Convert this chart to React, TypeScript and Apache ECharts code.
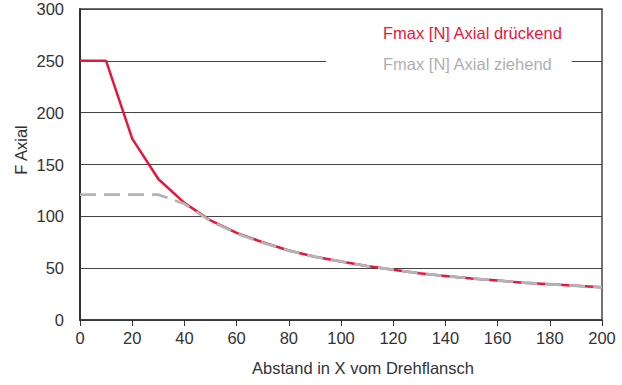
import React, { useEffect, useRef } from "react";
import * as echarts from "echarts";

const xValues = [0, 10, 20, 30, 40, 50, 60, 70, 80, 90, 100, 110, 120, 130, 140, 150, 160, 170, 180, 190, 200];
const druckend = [250, 250, 175, 136, 113, 96, 84, 75, 67, 61, 56.5, 52, 48.5, 45, 42.5, 40, 38, 36, 34.5, 33, 31.5];
const ziehend = [121, 121, 121, 121, 112, 95.5, 83.5, 74.5, 67, 61, 56.5, 52, 48.5, 45, 42.5, 40, 38, 36, 34.5, 33, 31.5];
const seriesNames = ["Fmax [N] Axial drückend", "Fmax [N] Axial ziehend"];
const xAxisTitle = "Abstand in X vom Drehflansch";
const yAxisTitle = "F Axial";

const FONT = "Liberation Sans, Arial, Helvetica, sans-serif";
const RED = "#e5173f";
const GRAY = "#b3b4b6";

export default function App() {
  const ref = useRef<HTMLDivElement>(null);
  useEffect(() => {
    if (!ref.current) return;
    const chart = echarts.init(ref.current, undefined, { renderer: "svg" });
    chart.setOption({
      animation: false,
      textStyle: { fontFamily: FONT },
      grid: {
        left: 80,
        right: 20,
        top: 9,
        bottom: 65,
        show: true,
        borderColor: "#444",
        borderWidth: 1.5,
      },
      legend: {
        orient: "vertical",
        left: 326,
        top: 18,
        backgroundColor: "#fff",
        padding: [5, 9, 20, 52],
        itemGap: 11,
        itemWidth: 0,
        itemHeight: 0,
        icon: "rect",
        textStyle: { fontFamily: FONT, fontSize: 16.5, lineHeight: 20 },
        data: [
          { name: seriesNames[0], textStyle: { color: RED } },
          { name: seriesNames[1], textStyle: { color: "#aeafb1" } },
        ],
        selectedMode: false,
      },
      xAxis: {
        type: "value",
        min: 0,
        max: 200,
        interval: 20,
        axisLine: { show: true, lineStyle: { color: "#333", width: 1.5 } },
        axisTick: { show: true, length: 6, lineStyle: { color: "#333" } },
        axisLabel: { color: "#333", fontSize: 16.5, margin: 9, fontFamily: FONT },
        splitLine: { show: false },
      },
      yAxis: {
        type: "value",
        min: 0,
        max: 300,
        interval: 50,
        axisLine: { show: true, lineStyle: { color: "#333", width: 2 } },
        axisTick: { show: false },
        axisLabel: { color: "#333", fontSize: 16.5, margin: 16, fontFamily: FONT },
        splitLine: { show: true, lineStyle: { color: "#444", width: 1 } },
      },
      graphic: [
        {
          type: "text",
          x: 21,
          y: 150,
          rotation: Math.PI / 2,
          style: {
            text: yAxisTitle,
            fill: "#333",
            font: `16.5px ${FONT}`,
            textAlign: "center",
            textVerticalAlign: "middle",
          },
        },
        {
          type: "text",
          x: 363,
          y: 368,
          style: {
            text: xAxisTitle,
            fill: "#333",
            font: `16.5px ${FONT}`,
            textAlign: "center",
            textVerticalAlign: "middle",
          },
        },
      ],
      series: [
        {
          name: seriesNames[0],
          type: "line",
          data: xValues.map((x, i) => [x, druckend[i]]),
          showSymbol: false,
          symbol: "none",
          lineStyle: { color: RED, width: 2.5 },
          itemStyle: { color: RED },
          z: 2,
        },
        {
          name: seriesNames[1],
          type: "line",
          data: xValues.map((x, i) => [x, ziehend[i]]),
          showSymbol: false,
          symbol: "none",
          lineStyle: { color: GRAY, width: 2.8, type: [16, 8] },
          itemStyle: { color: GRAY },
          z: 3,
        },
      ],
    });
    return () => chart.dispose();
  }, []);
  return <div ref={ref} style={{ width: 622, height: 385, position: "absolute", left: 0, top: 0 }} />;
}
